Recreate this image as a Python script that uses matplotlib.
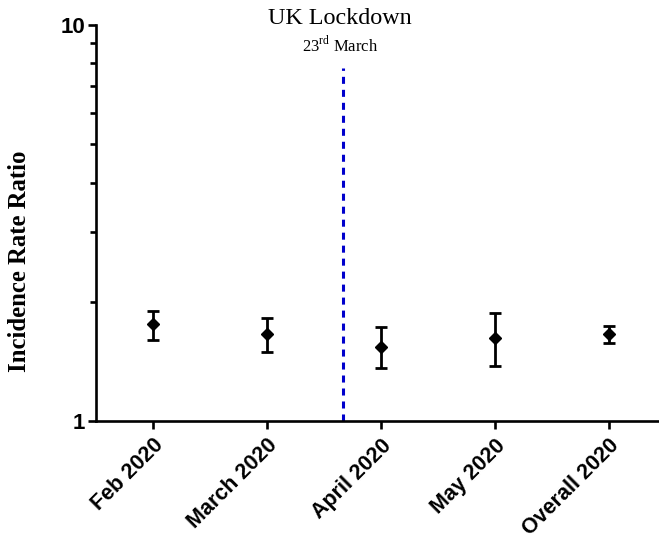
import numpy as np
import matplotlib
matplotlib.use("Agg")
import matplotlib.pyplot as plt
from matplotlib.ticker import FixedLocator, NullFormatter

plt.rcParams['mathtext.fontset'] = 'custom'
plt.rcParams['mathtext.rm'] = 'Liberation Serif'

# data
periods = ['Feb 2020', 'March 2020', 'April 2020', 'May 2020', 'Overall 2020']
irr = [1.755, 1.659, 1.540, 1.618, 1.655]
irr_low = [1.602, 1.496, 1.363, 1.374, 1.571]
irr_high = [1.899, 1.816, 1.724, 1.871, 1.741]
lockdown_x = 1.67
lockdown_top = 7.8

x = np.arange(len(periods))
yerr = [np.array(irr) - np.array(irr_low), np.array(irr_high) - np.array(irr)]

fig = plt.figure(figsize=(6.59, 5.38), dpi=100)
ax = fig.add_axes([96 / 659, 1 - 421 / 538, 1 - 96 / 659, (421 - 25) / 538])

ax.errorbar(x, irr, yerr=yerr, fmt='D', color='black', markersize=6.5,
            elinewidth=2.0, capsize=4.0, capthick=2.0)
ax.plot([lockdown_x, lockdown_x], [1, lockdown_top], color='#0000CC', lw=2.2,
        dashes=(2.3, 1.95), dash_capstyle='butt')

ax.set_yscale('log')
ax.set_ylim(1, 10)
ax.set_xlim(-0.5, 4.44)
ax.yaxis.set_major_locator(FixedLocator([1, 10]))
ax.yaxis.set_minor_locator(FixedLocator([2, 3, 4, 5, 6, 7, 8, 9]))
ax.yaxis.set_minor_formatter(NullFormatter())
ax.set_yticklabels(['1', '10'], fontfamily='Liberation Sans', fontweight='bold', fontsize=16)

ax.set_xticks(x)
ax.set_xticklabels(periods, rotation=45, ha='right', rotation_mode='anchor',
                   fontfamily='Liberation Sans', fontweight='bold', fontsize=15.5)

for side in ['top', 'right']:
    ax.spines[side].set_visible(False)
for side in ['left', 'bottom']:
    ax.spines[side].set_linewidth(1.9)
ax.tick_params(which='major', length=6, width=1.9, pad=2)
ax.tick_params(which='minor', length=4.5, width=1.9)
ax.tick_params(axis='x', pad=4)

fig.text(20 / 659, 1 - 261 / 538, 'Incidence Rate Ratio', rotation=90,
         ha='center', va='center', fontfamily='Liberation Serif',
         fontweight='bold', fontsize=17.8)
fig.text(340 / 659, 1 - 18 / 538, 'UK Lockdown', ha='center', va='center',
         fontfamily='Liberation Serif', fontsize=17.4)
fig.text(340 / 659, 1 - 45 / 538, r'23$^{\mathrm{rd}}$ March', ha='center', va='center',
         fontfamily='Liberation Serif', fontsize=12)

fig.savefig('out.png', dpi=100)
